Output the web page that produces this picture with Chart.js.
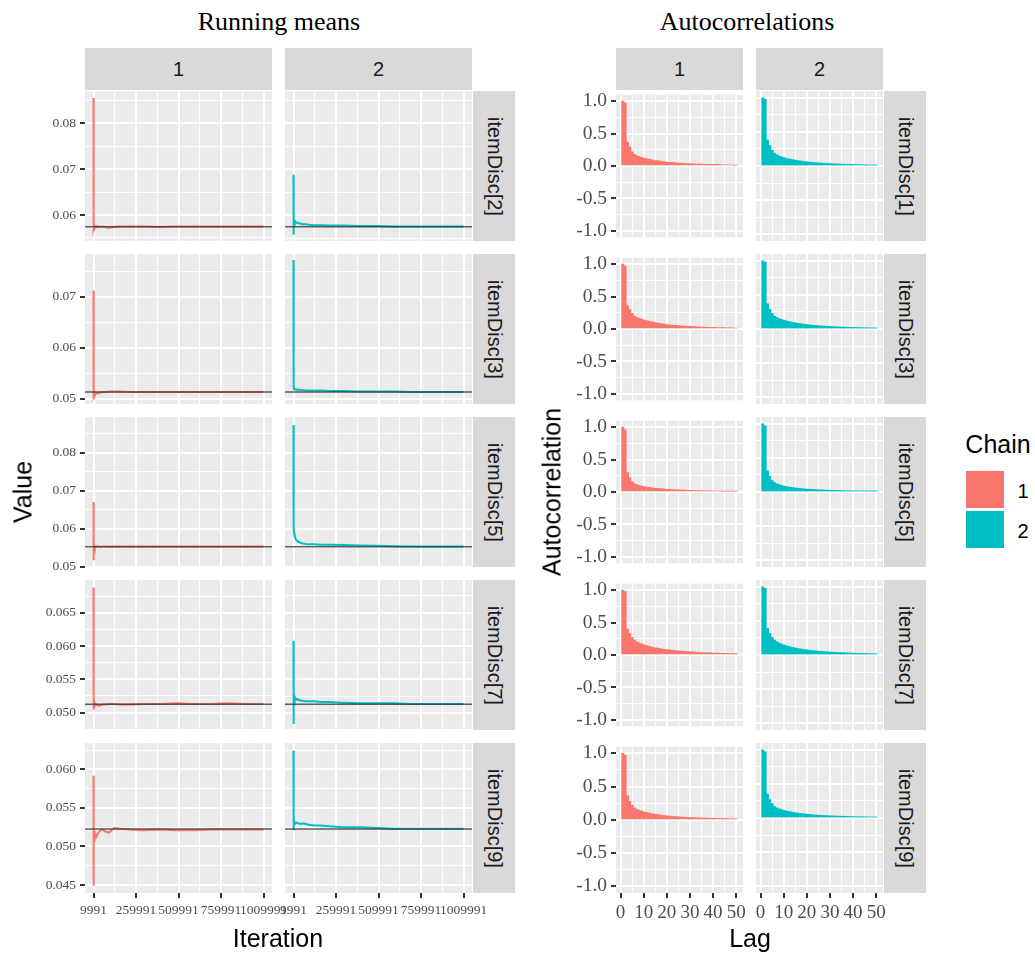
<!DOCTYPE html>
<html>
<head>
<meta charset="utf-8">
<script src="https://cdn.jsdelivr.net/npm/chart.js@4.4.0/dist/chart.umd.min.js"></script>
<style>
  body { margin: 0; background: #fff; width: 1035px; height: 954px; position: relative; overflow: hidden;
         font-family: "Liberation Sans", Arial, sans-serif; }
  canvas { position: absolute; }
  .strip { position: absolute; background: #D9D9D9; color: #1A1A1A; font-size: 20px;
           display: flex; align-items: center; justify-content: center; }
  .strip.v span { writing-mode: vertical-rl; }
  .txt { position: absolute; white-space: nowrap; transform: translate(-50%, -50%); color: #000; }
  .title { font-family: "Liberation Serif", "Times New Roman", serif; font-size: 26px; }
  .axt { font-size: 25px; }
  .rot { transform: translate(-50%, -50%) rotate(-90deg); }
  .key { position: absolute; width: 38px; height: 37px; }
</style>
</head>
<body>
<script>
// --- Data ---

const CHAINS = ['1', '2'];
const RM_PARAMS = ['itemDisc[2]', 'itemDisc[3]', 'itemDisc[5]', 'itemDisc[7]', 'itemDisc[9]'];
const AC_PARAMS = ['itemDisc[1]', 'itemDisc[3]', 'itemDisc[5]', 'itemDisc[7]', 'itemDisc[9]'];

// running means: iteration grid and values per parameter / chain
const ITER = [9991, 10491, 10991, 11991, 13991, 16991, 20991, 25991, 32991, 40991, 50991, 65991, 80991,
              100991, 130991, 170991, 220991, 300991, 400991, 500991, 600991, 700991, 800991, 900991, 1009991];
const RM_MEANS = [0.05746, 0.0513, 0.05526, 0.05126, 0.05226];

const rm2_c1 = [0.0855, 0.0566, 0.0578, 0.0572, 0.0577, 0.0571, 0.0574, 0.0576, 0.0573, 0.0575, 0.0574, 0.0575, 0.0573,
                0.0572, 0.0574, 0.0575, 0.0575, 0.0575, 0.0574, 0.0575, 0.0575, 0.0575, 0.0575, 0.0575, 0.0575];
const rm2_c2 = [0.0688, 0.0557, 0.0590, 0.0588, 0.0585, 0.0583, 0.0586, 0.0584, 0.0582, 0.0583, 0.0581, 0.0580, 0.0580,
                0.0579, 0.0578, 0.0578, 0.0577, 0.0577, 0.0576, 0.0576, 0.0575, 0.0575, 0.0575, 0.0575, 0.0575];
const rm3_c1 = [0.0712, 0.0499, 0.0520, 0.0508, 0.0512, 0.0506, 0.0509, 0.0511, 0.0510, 0.0511, 0.0512, 0.0513, 0.0513,
                0.0514, 0.0514, 0.0514, 0.0513, 0.0513, 0.0513, 0.0513, 0.0513, 0.0513, 0.0513, 0.0513, 0.0513];
const rm3_c2 = [0.0772, 0.0600, 0.0545, 0.0522, 0.0518, 0.0519, 0.0518, 0.0518, 0.0517, 0.0518, 0.0517, 0.0517, 0.0516,
                0.0516, 0.0516, 0.0516, 0.0515, 0.0515, 0.0514, 0.0514, 0.0514, 0.0513, 0.0513, 0.0513, 0.0513];
const rm5_c1 = [0.0670, 0.0517, 0.0560, 0.0550, 0.0556, 0.0551, 0.0553, 0.0552, 0.0554, 0.0553, 0.0552, 0.0553, 0.0553,
                0.0552, 0.0553, 0.0553, 0.0553, 0.0553, 0.0553, 0.0553, 0.0553, 0.0553, 0.0553, 0.0553, 0.0553];
const rm5_c2 = [0.0873, 0.0640, 0.0610, 0.0598, 0.0588, 0.0580, 0.0575, 0.0570, 0.0567, 0.0565, 0.0563, 0.0561, 0.0560,
                0.0559, 0.0559, 0.0558, 0.0558, 0.0557, 0.0556, 0.0555, 0.0554, 0.0553, 0.0553, 0.0553, 0.0553];
const rm7_c1 = [0.0688, 0.0505, 0.0522, 0.0508, 0.0516, 0.0510, 0.0513, 0.0511, 0.0512, 0.0510, 0.0511, 0.0512, 0.0512,
                0.0513, 0.0513, 0.0512, 0.0512, 0.0513, 0.0513, 0.0514, 0.0513, 0.0513, 0.0514, 0.0513, 0.0513];
const rm7_c2 = [0.0608, 0.0483, 0.0535, 0.0528, 0.0525, 0.0522, 0.0520, 0.0521, 0.0519, 0.0520, 0.0518, 0.0518, 0.0517,
                0.0517, 0.0517, 0.0516, 0.0516, 0.0515, 0.0514, 0.0514, 0.0514, 0.0513, 0.0513, 0.0513, 0.0513];
const rm9_c1 = [0.0592, 0.0449, 0.0535, 0.0512, 0.0520, 0.0510, 0.0514, 0.0512, 0.0516, 0.0518, 0.0521, 0.0522, 0.0519,
                0.0518, 0.0524, 0.0523, 0.0522, 0.0521, 0.0522, 0.0521, 0.0521, 0.0522, 0.0522, 0.0522, 0.0522];
const rm9_c2 = [0.0624, 0.0521, 0.0545, 0.0535, 0.0532, 0.0531, 0.0530, 0.0531, 0.0530, 0.0530, 0.0529, 0.0530, 0.0529,
                0.0528, 0.0527, 0.0527, 0.0526, 0.0525, 0.0525, 0.0524, 0.0523, 0.0523, 0.0523, 0.0523, 0.0523];
const RM_VALUES = [[rm2_c1, rm2_c2], [rm3_c1, rm3_c2], [rm5_c1, rm5_c2], [rm7_c1, rm7_c2], [rm9_c1, rm9_c2]];

// running means axes
const RM_X_RANGE = [-40009, 1059991];
const RM_X_TICKS = [9991, 259991, 509991, 759991, 1009991];
const RM_X_LABELS = ['9991', '259991', '509991', '759991', '1009991'];
const RM_X_MINOR = [134991, 384991, 634991, 884991];
const RM_Y_RANGES = [[0.05435, 0.08702], [0.04896, 0.07837], [0.04992, 0.08939], [0.0474, 0.0699], [0.04396, 0.06341]];
const RM_Y_TICKS = [[0.06, 0.07, 0.08], [0.05, 0.06, 0.07], [0.05, 0.06, 0.07, 0.08],
                    [0.05, 0.055, 0.06, 0.065], [0.045, 0.05, 0.055, 0.06]];
const RM_Y_LABELS = [['0.06', '0.07', '0.08'], ['0.05', '0.06', '0.07'], ['0.05', '0.06', '0.07', '0.08'],
                     ['0.050', '0.055', '0.060', '0.065'], ['0.045', '0.050', '0.055', '0.060']];
const RM_Y_MINOR = [[0.055, 0.065, 0.075, 0.085], [0.055, 0.065, 0.075], [0.055, 0.065, 0.075, 0.085],
                    [0.0475, 0.0525, 0.0575, 0.0625, 0.0675], [0.0475, 0.0525, 0.0575, 0.0625]];

// autocorrelations: lags 1..50
const LAGS = [1, 2, 3, 4, 5, 6, 7, 8, 9, 10, 11, 12, 13, 14, 15, 16, 17, 18, 19, 20, 21, 22, 23, 24, 25,
              26, 27, 28, 29, 30, 31, 32, 33, 34, 35, 36, 37, 38, 39, 40, 41, 42, 43, 44, 45, 46, 47, 48, 49, 50];
const ac1_c1 = [1.00, 0.97, 0.37, 0.29, 0.22, 0.18, 0.16, 0.145, 0.133, 0.122, 0.113, 0.105, 0.098, 0.091, 0.085,
                0.080, 0.075, 0.070, 0.066, 0.062, 0.058, 0.055, 0.052, 0.049, 0.046, 0.044, 0.042, 0.040, 0.038, 0.036,
                0.034, 0.032, 0.031, 0.030, 0.028, 0.027, 0.026, 0.025, 0.024, 0.023, 0.022, 0.024, 0.022, 0.019, 0.018,
                0.017, 0.016, 0.015, 0.014, 0.013];
const ac1_c2 = [1.00, 0.98, 0.38, 0.30, 0.23, 0.19, 0.165, 0.148, 0.135, 0.124, 0.114, 0.106, 0.099, 0.092, 0.086,
                0.080, 0.075, 0.070, 0.066, 0.062, 0.058, 0.054, 0.051, 0.048, 0.045, 0.043, 0.041, 0.039, 0.037, 0.035,
                0.033, 0.031, 0.030, 0.029, 0.027, 0.026, 0.025, 0.024, 0.023, 0.022, 0.021, 0.020, 0.019, 0.018, 0.017,
                0.017, 0.016, 0.015, 0.014, 0.013];
const ac3_c1 = [1.00, 0.97, 0.36, 0.30, 0.24, 0.20, 0.18, 0.165, 0.152, 0.140, 0.130, 0.121, 0.113, 0.105, 0.098,
                0.092, 0.086, 0.080, 0.075, 0.070, 0.066, 0.062, 0.058, 0.055, 0.052, 0.049, 0.046, 0.044, 0.042, 0.040,
                0.038, 0.036, 0.034, 0.032, 0.031, 0.030, 0.028, 0.027, 0.026, 0.025, 0.024, 0.023, 0.022, 0.021, 0.020,
                0.019, 0.018, 0.017, 0.016, 0.015];
const ac3_c2 = [1.00, 0.98, 0.37, 0.29, 0.23, 0.19, 0.17, 0.155, 0.142, 0.131, 0.121, 0.112, 0.104, 0.097, 0.090,
                0.084, 0.079, 0.074, 0.069, 0.065, 0.061, 0.057, 0.054, 0.051, 0.048, 0.045, 0.043, 0.041, 0.039, 0.037,
                0.035, 0.033, 0.031, 0.030, 0.029, 0.028, 0.026, 0.025, 0.024, 0.023, 0.022, 0.021, 0.020, 0.019, 0.018,
                0.017, 0.016, 0.016, 0.015, 0.014];
const ac5_c1 = [1.00, 0.96, 0.30, 0.22, 0.16, 0.13, 0.115, 0.103, 0.093, 0.085, 0.078, 0.072, 0.067, 0.062, 0.058,
                0.054, 0.051, 0.048, 0.045, 0.042, 0.040, 0.038, 0.036, 0.034, 0.032, 0.030, 0.029, 0.028, 0.026, 0.025,
                0.024, 0.023, 0.022, 0.021, 0.020, 0.019, 0.018, 0.018, 0.017, 0.016, 0.016, 0.015, 0.014, 0.014, 0.013,
                0.013, 0.012, 0.012, 0.011, 0.011];
const ac5_c2 = [1.00, 0.97, 0.31, 0.23, 0.17, 0.14, 0.12, 0.108, 0.097, 0.088, 0.081, 0.075, 0.069, 0.064, 0.060,
                0.056, 0.052, 0.049, 0.046, 0.043, 0.041, 0.039, 0.037, 0.035, 0.033, 0.031, 0.030, 0.028, 0.027, 0.026,
                0.025, 0.024, 0.023, 0.022, 0.021, 0.020, 0.019, 0.018, 0.018, 0.017, 0.016, 0.016, 0.015, 0.015, 0.014,
                0.014, 0.013, 0.013, 0.012, 0.012];
const ac7_c1 = [1.00, 0.98, 0.40, 0.33, 0.27, 0.23, 0.205, 0.187, 0.172, 0.159, 0.147, 0.137, 0.128, 0.120, 0.112,
                0.105, 0.099, 0.093, 0.088, 0.083, 0.078, 0.074, 0.070, 0.066, 0.063, 0.060, 0.057, 0.054, 0.051, 0.049,
                0.047, 0.045, 0.043, 0.041, 0.039, 0.037, 0.035, 0.034, 0.032, 0.031, 0.030, 0.028, 0.027, 0.026, 0.025,
                0.024, 0.023, 0.022, 0.021, 0.020];
const ac7_c2 = [1.00, 0.98, 0.39, 0.32, 0.26, 0.22, 0.195, 0.177, 0.162, 0.149, 0.138, 0.128, 0.119, 0.111, 0.104,
                0.097, 0.091, 0.085, 0.080, 0.075, 0.071, 0.067, 0.063, 0.060, 0.057, 0.054, 0.051, 0.048, 0.046, 0.044,
                0.042, 0.040, 0.038, 0.036, 0.034, 0.033, 0.031, 0.030, 0.029, 0.027, 0.026, 0.025, 0.024, 0.023, 0.022,
                0.021, 0.020, 0.019, 0.018, 0.017];
const ac9_c1 = [1.00, 0.97, 0.36, 0.28, 0.22, 0.18, 0.16, 0.145, 0.132, 0.121, 0.112, 0.104, 0.097, 0.090, 0.084,
                0.079, 0.074, 0.069, 0.065, 0.061, 0.057, 0.054, 0.051, 0.048, 0.045, 0.043, 0.041, 0.039, 0.037, 0.035,
                0.033, 0.031, 0.030, 0.029, 0.028, 0.027, 0.026, 0.025, 0.024, 0.023, 0.022, 0.021, 0.020, 0.019, 0.018,
                0.018, 0.017, 0.016, 0.015, 0.014];
const ac9_c2 = [1.00, 0.97, 0.35, 0.27, 0.21, 0.17, 0.15, 0.135, 0.123, 0.113, 0.104, 0.097, 0.090, 0.084, 0.078,
                0.073, 0.068, 0.064, 0.060, 0.056, 0.053, 0.050, 0.047, 0.044, 0.042, 0.040, 0.038, 0.036, 0.034, 0.032,
                0.030, 0.029, 0.028, 0.027, 0.026, 0.025, 0.024, 0.023, 0.022, 0.021, 0.020, 0.019, 0.018, 0.018, 0.017,
                0.016, 0.016, 0.015, 0.014, 0.013];
const AC_VALUES = [[ac1_c1, ac1_c2], [ac3_c1, ac3_c2], [ac5_c1, ac5_c2], [ac7_c1, ac7_c2], [ac9_c1, ac9_c2]];

const AC_X_RANGE = [-1.95, 52.95];
const AC_X_TICKS = [0, 10, 20, 30, 40, 50];
const AC_X_LABELS = ['0', '10', '20', '30', '40', '50'];
const AC_X_MINOR = [5, 15, 25, 35, 45];
const AC_Y_RANGE = [-1.1, 1.1];
const AC_Y_TICKS = [-1, -0.5, 0, 0.5, 1];
const AC_Y_LABELS = ['-1.0', '-0.5', '0.0', '0.5', '1.0'];
const AC_Y_MINOR = [-0.75, -0.25, 0.25, 0.75];

// --- Layout ---

const COLORS = ['#F8766D', '#00BFC4'];
const ROW_Y = [91, 254, 417, 580, 743], ROW_H = 150;
const RM_COL_X = [85, 285], RM_W = 187;
const AC_COL_X = [616, 756], AC_W = 127;

const panelBg = {
    id: 'panelBg',
    beforeDraw(chart) {
        const a = chart.chartArea, c = chart.ctx;
        c.save();
        c.fillStyle = '#EBEBEB';
        c.fillRect(a.left, a.top, a.right - a.left, a.bottom - a.top);
        c.restore();
    }
};

function axisOpts(range, major, minor, labels, show, fitKey, fitVal, fontSize) {
    return {
        type: 'linear', min: range[0], max: range[1], offset: false,
        afterBuildTicks: s => {
            s.ticks = major.concat(minor).sort((a, b) => a - b).map(v => ({ value: v }));
        },
        afterFit: s => { s[fitKey] = fitVal; },
        border: { display: false },
        grid: {
            color: '#FFFFFF', offset: false,
            lineWidth: c => major.includes(c.tick.value) ? 2 : 1,
            drawTicks: show, tickLength: 5, tickWidth: 2,
            tickColor: c => major.includes(c.tick.value) ? '#333333' : 'rgba(0,0,0,0)'
        },
        ticks: {
            display: show, autoSkip: false, maxRotation: 0, minRotation: 0, padding: 4,
            color: '#4D4D4D', font: { family: 'Liberation Serif', size: fontSize },
            callback: v => { const i = major.indexOf(v); return i < 0 ? '' : labels[i]; }
        }
    };
}

function makePanel(p) {
    const yW = p.showY ? 70 : 0, xH = p.showX ? 40 : 0;
    const padL = yW + 25, padR = 25, padT = 12, padB = xH + 12;
    const cv = document.createElement('canvas');
    cv.width = p.w + padL + padR;
    cv.height = ROW_H + padT + padB;
    cv.style.left = (p.x - padL) + 'px';
    cv.style.top = (p.y - padT) + 'px';
    document.body.appendChild(cv);

    new Chart(cv, {
        type: p.type,
        data: { datasets: p.datasets },
        options: {
            responsive: false, animation: false, events: [],
            layout: { autoPadding: false, padding: { left: padL - yW, right: padR, top: padT, bottom: padB - xH } },
            plugins: { legend: { display: false }, tooltip: { enabled: false } },
            scales: {
                x: axisOpts(p.xRange, p.xTicks, p.xMinor, p.xLabels, p.showX, 'height', xH, p.xFont),
                y: axisOpts(p.yRange, p.yTicks, p.yMinor, p.yLabels, p.showY, 'width', yW, p.yFont)
            }
        },
        plugins: [panelBg]
    });
}

function addDiv(cls, text, css) {
    const d = document.createElement('div');
    d.className = cls;
    if (cls.includes('strip v')) d.innerHTML = '<span>' + text + '</span>';
    else d.textContent = text;
    Object.assign(d.style, css);
    document.body.appendChild(d);
    return d;
}

// --- Build panels ---

ROW_Y.forEach((y, r) => {
    CHAINS.forEach((ch, c) => {
        // running means
        makePanel({
            type: 'line', x: RM_COL_X[c], y, w: RM_W, showX: r === 4, showY: c === 0, xFont: 13.5, yFont: 13.5,
            xRange: RM_X_RANGE, xTicks: RM_X_TICKS, xMinor: RM_X_MINOR, xLabels: RM_X_LABELS,
            yRange: RM_Y_RANGES[r], yTicks: RM_Y_TICKS[r], yMinor: RM_Y_MINOR[r], yLabels: RM_Y_LABELS[r],
            datasets: [
                { data: [{ x: RM_X_RANGE[0], y: RM_MEANS[r] }, { x: RM_X_RANGE[1], y: RM_MEANS[r] }],
                  borderColor: 'rgba(45,45,45,0.75)', borderWidth: 1.5, pointRadius: 0 },
                { data: ITER.map((x, i) => ({ x, y: RM_VALUES[r][c][i] })),
                  borderColor: COLORS[c], borderWidth: 2, pointRadius: 0, tension: 0 }
            ]
        });
        // autocorrelations
        makePanel({
            type: 'bar', x: AC_COL_X[c], y, w: AC_W, showX: r === 4, showY: c === 0, xFont: 19, yFont: 19.5,
            xRange: AC_X_RANGE, xTicks: AC_X_TICKS, xMinor: AC_X_MINOR, xLabels: AC_X_LABELS,
            yRange: AC_Y_RANGE, yTicks: AC_Y_TICKS, yMinor: AC_Y_MINOR, yLabels: AC_Y_LABELS,
            datasets: [
                { data: LAGS.map((x, i) => ({ x, y: AC_VALUES[r][c][i] })),
                  backgroundColor: COLORS[c], borderWidth: 0, barPercentage: 1, categoryPercentage: 1 }
            ]
        });
    });
    addDiv('strip v', RM_PARAMS[r], { left: '473px', top: y + 'px', width: '42px', height: ROW_H + 'px' });
    addDiv('strip v', AC_PARAMS[r], { left: '884px', top: y + 'px', width: '42px', height: ROW_H + 'px' });
});

CHAINS.forEach((ch, c) => {
    addDiv('strip', ch, { left: RM_COL_X[c] + 'px', top: '48px', width: RM_W + 'px', height: '42px' });
    addDiv('strip', ch, { left: AC_COL_X[c] + 'px', top: '48px', width: AC_W + 'px', height: '42px' });
});

// titles and axis titles
addDiv('txt title', 'Running means', { left: '279px', top: '22px' });
addDiv('txt title', 'Autocorrelations', { left: '747px', top: '22px' });
addDiv('txt axt', 'Iteration', { left: '278px', top: '938px' });
addDiv('txt axt', 'Lag', { left: '750px', top: '938px' });
addDiv('txt axt rot', 'Value', { left: '23px', top: '492px' });
addDiv('txt axt rot', 'Autocorrelation', { left: '552px', top: '492px' });

// legend
addDiv('txt axt', 'Chain', { left: '998px', top: '444px' });
CHAINS.forEach((ch, c) => {
    addDiv('key', '', { left: '966px', top: (471 + c * 40) + 'px', background: COLORS[c] });
    addDiv('txt', ch, { left: '1023px', top: (491 + c * 40) + 'px', fontSize: '20px' });
});
</script>
</body>
</html>
